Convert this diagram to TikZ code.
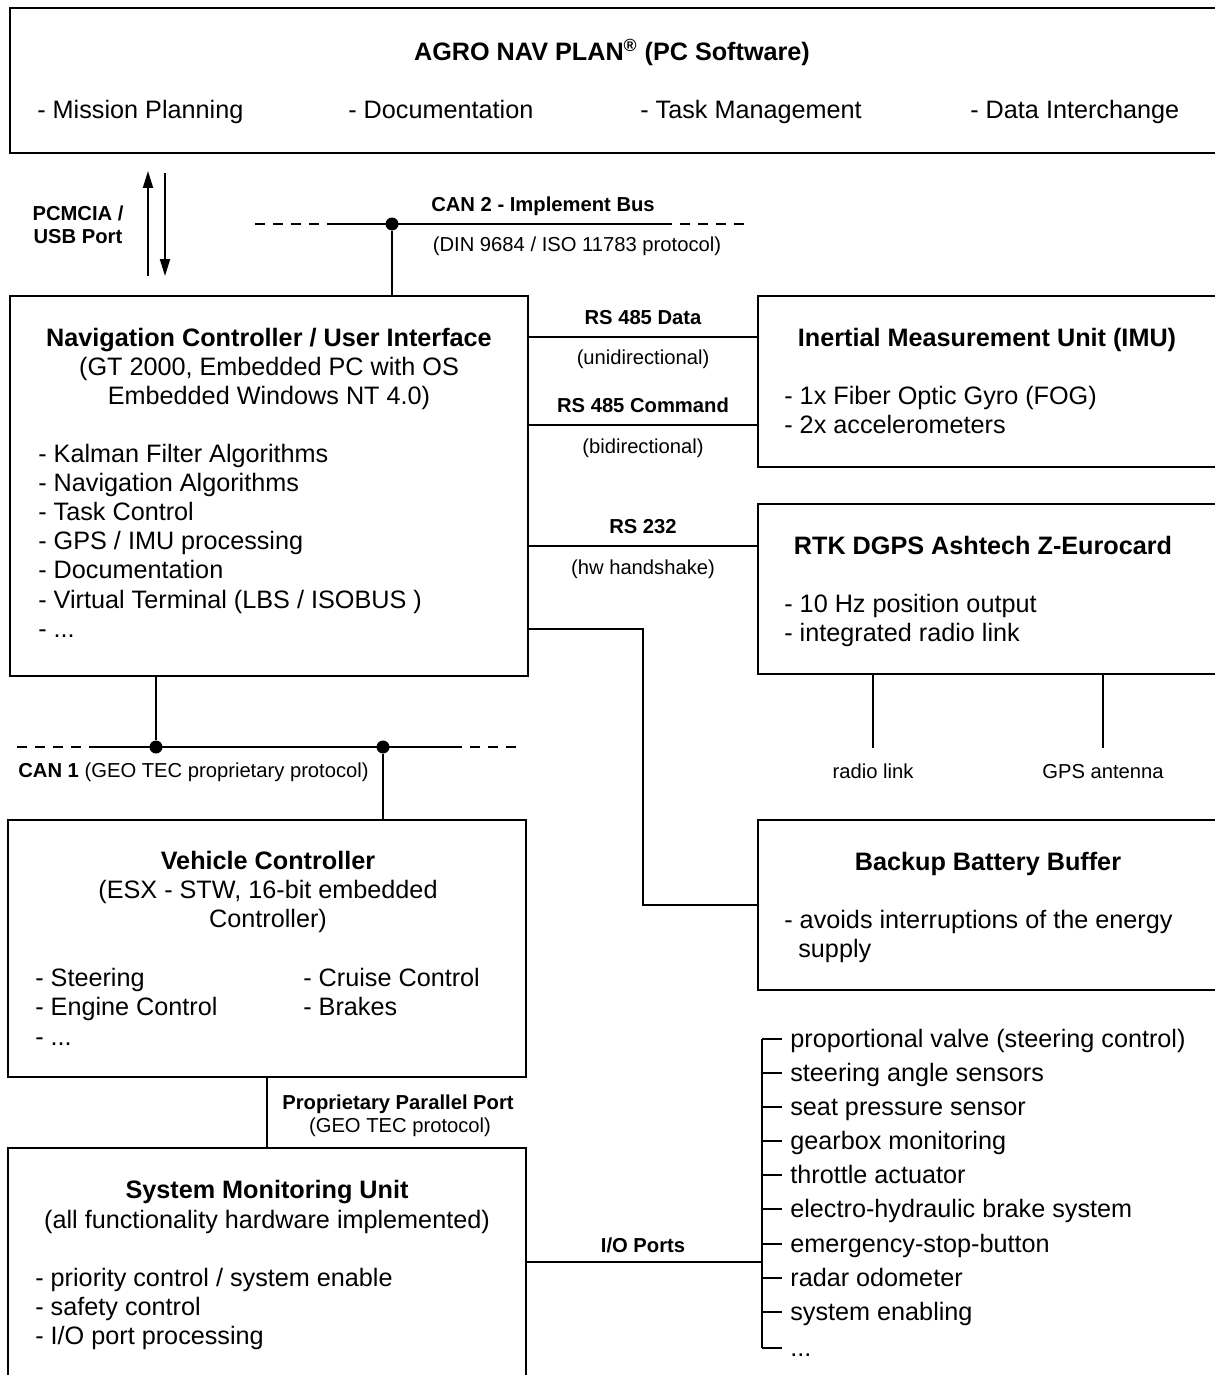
\documentclass[tikz,border=0pt]{standalone}
\usepackage{fontspec}
\setmainfont{Liberation Sans}
\usetikzlibrary{arrows.meta,fit}

\tikzset{
  box/.style={draw, line width=1.1pt, inner sep=0pt},
  wire/.style={line width=1.1pt},
  bus/.style={line width=1.1pt, dash pattern=on 0.2cm off 0.16cm},
  pfeil/.style={line width=1.1pt, -{Triangle[length=0.34cm, width=0.2cm]}},
  dot/.style={fill, circle, inner sep=0pt, minimum size=0.26cm},
  txt/.style={inner sep=0pt, font=\fontsize{14.35}{17}\selectfont},
  txtb/.style={inner sep=0pt, font=\fontsize{14.35}{17}\selectfont\bfseries},
  lbl/.style={inner sep=0pt, font=\fontsize{11.5}{14}\selectfont},
  lblb/.style={inner sep=0pt, font=\fontsize{11.5}{14}\selectfont\bfseries}
}

\begin{document}
\begin{tikzpicture}[x=0.02cm, y=-0.02cm]
	\useasboundingbox (0,0) rectangle (1214,1375);

	% Bloecke
	\node[box, fit={(10,8) (1222,153)}] (agro) {};
	\node[box, fit={(10,296) (528,676)}] (nav) {};
	\node[box, fit={(758,296) (1222,467)}] (imu) {};
	\node[box, fit={(758,504) (1222,674)}] (rtk) {};
	\node[box, fit={(758,820) (1222,990)}] (bat) {};
	\node[box, fit={(8,820) (526,1077)}] (veh) {};
	\node[box, fit={(8,1148) (526,1390)}] (smu) {};

	% PC Software
	\node[txtb, anchor=base] (agrot) at (612,61) {AGRO NAV PLAN\textsuperscript{®} (PC Software)};
	\foreach \x/\t [count=\i] in {37/Mission Planning, 348/Documentation, 640/Task Management, 970/Data Interchange} {
	     \node[txt, anchor=base west] (agro\i) at (\x,119) {- \t};
	}

	% Navigation Controller
	\node[txtb, anchor=base] (navt1) at (269,346) {Navigation Controller / User Interface};
	\node[txt, anchor=base] (navt2) at (269,375) {(GT 2000, Embedded PC with OS};
	\node[txt, anchor=base] (navt3) at (269,404) {Embedded Windows NT 4.0)};
	\foreach \t [count=\i] in {Kalman Filter Algorithms, Navigation Algorithms, Task Control, GPS / IMU processing, Documentation, Virtual Terminal (LBS / ISOBUS )} {
	     \node[txt, anchor=base west] (navi\i) at (38,{462+29.2*(\i-1)}) {- \t};
	}
	\node[txt, anchor=base west] (navi7) at (38,637) {- ...};

	% IMU
	\node[txtb, anchor=base] (imut) at (987,346) {Inertial Measurement Unit (IMU)};
	\node[txt, anchor=base west] (imu1) at (784,404) {- 1x Fiber Optic Gyro (FOG)};
	\node[txt, anchor=base west] (imu2) at (784,433) {- 2x accelerometers};

	% RTK DGPS
	\node[txtb, anchor=base] (rtkt) at (983,554) {RTK DGPS Ashtech Z-Eurocard};
	\node[txt, anchor=base west] (rtk1) at (784,612) {- 10 Hz position output};
	\node[txt, anchor=base west] (rtk2) at (784,641) {- integrated radio link};
	\coordinate (radio) at (873,748);
	\coordinate (antenna) at (1103,748);
	\node[lbl, anchor=base] (radiol) at (873,778) {radio link};
	\node[lbl, anchor=base] (antennal) at (1103,778) {GPS antenna};

	% Batterie
	\node[txtb, anchor=base] (batt) at (988,870) {Backup Battery Buffer};
	\node[txt, anchor=base west] (bat1) at (784,928) {- avoids interruptions of the energy};
	\node[txt, anchor=base west] (bat2) at (798,957) {supply};

	% Vehicle Controller
	\node[txtb, anchor=base] (veht1) at (268,869) {Vehicle Controller};
	\node[txt, anchor=base] (veht2) at (268,898) {(ESX - STW, 16-bit embedded};
	\node[txt, anchor=base] (veht3) at (268,927) {Controller)};
	\node[txt, anchor=base west] (vehi1) at (35,986) {- Steering};
	\node[txt, anchor=base west] (vehi2) at (35,1015) {- Engine Control};
	\node[txt, anchor=base west] (vehi3) at (35,1045) {- ...};
	\node[txt, anchor=base west] (vehi4) at (303,986) {- Cruise Control};
	\node[txt, anchor=base west] (vehi5) at (303,1015) {- Brakes};

	% System Monitoring Unit
	\node[txtb, anchor=base] (smut1) at (267,1198) {System Monitoring Unit};
	\node[txt, anchor=base] (smut2) at (267,1228) {(all functionality hardware implemented)};
	\foreach \t [count=\i] in {priority control / system enable, safety control, I/O port processing} {
	     \node[txt, anchor=base west] (smui\i) at (35,{1286+29.2*(\i-1)}) {- \t};
	}

	% PCMCIA
	\node[lblb, anchor=base] (pcm1) at (78,220) {PCMCIA /};
	\node[lblb, anchor=base] (pcm2) at (78,243) {USB Port};
	\draw[pfeil, shorten <=0.38cm, shorten >=0.34cm] (nav.north -| 148,0) -- (agro.south -| 148,0);
	\draw[pfeil, shorten <=0.38cm, shorten >=0.38cm] (agro.south -| 165,0) -- (nav.north -| 165,0);

	% CAN 2
	\draw[bus] (255,224) -- (319,224);
	\draw[wire] (327,224) -- (672,224);
	\draw[bus] (680,224) -- (750,224);
	\node[dot] (can2) at (392,224) {};
	\draw[wire] (can2) -- (nav.north -| can2);
	\node[lblb, anchor=base] (can2l) at (543,212) {CAN 2 - Implement Bus};
	\node[lbl, anchor=base] (can2p) at (577,252) {(DIN 9684 / ISO 11783 protocol)};

	% serielle Leitungen
	\draw[wire] (nav.east |- 0,337) -- (imu.west |- 0,337);
	\node[lblb, anchor=base] (rs1) at (643,324) {RS 485 Data};
	\node[lbl, anchor=base] (rs1p) at (643,364) {(unidirectional)};
	\draw[wire] (nav.east |- 0,425) -- (imu.west |- 0,425);
	\node[lblb, anchor=base] (rs2) at (643,412) {RS 485 Command};
	\node[lbl, anchor=base] (rs2p) at (643,453) {(bidirectional)};
	\draw[wire] (nav.east |- 0,546) -- (rtk.west |- 0,546);
	\node[lblb, anchor=base] (rs3) at (643,533) {RS 232};
	\node[lbl, anchor=base] (rs3p) at (643,574) {(hw handshake)};
	\draw[wire] (rtk.south -| radio) -- (radio);
	\draw[wire] (rtk.south -| antenna) -- (antenna);
	\draw[wire] (nav.east |- 0,629) -| (643,905) -- (bat.west |- 0,905);

	% CAN 1
	\draw[bus] (17,747) -- (81,747);
	\draw[wire] (89,747) -- (462,747);
	\draw[bus] (470,747) -- (518,747);
	\node[dot] (can1a) at (156,747) {};
	\node[dot] (can1b) at (383,747) {};
	\draw[wire] (nav.south -| can1a) -- (can1a);
	\draw[wire] (can1b) -- (veh.north -| can1b);
	\node[lbl, anchor=base west] (can1l) at (18,777) {\textbf{CAN 1} (GEO TEC proprietary protocol)};

	% Parallel Port
	\draw[wire] (veh.south) -- (smu.north);
	\node[lblb, anchor=base] (ppl) at (398,1109) {Proprietary Parallel Port};
	\node[lbl, anchor=base] (ppp) at (400,1132) {(GEO TEC protocol)};

	% I/O Ports
	\coordinate (iobr) at (762,1262);
	\draw[wire] (smu.east |- iobr) -- (iobr);
	\node[lblb, anchor=base] (iol) at (643,1252) {I/O Ports};
	\draw[wire] (762,1039) -- (762,1348);
	\foreach \y/\t [count=\i] in {1039/proportional valve (steering control), 1073/steering angle sensors, 1107/seat pressure sensor, 1141/gearbox monitoring, 1175/throttle actuator, 1209/electro-hydraulic brake system, 1244/emergency-stop-button, 1278/radar odometer, 1312/system enabling} {
	     \draw[wire] (762,\y) -- (782,\y);
	     \node[txt, anchor=base west] (io\i) at (790,\y+8) {\t};
	}
	\draw[wire] (762,1348) -- (782,1348);
	\node[txt, anchor=base west] (io10) at (790,1356) {...};
\end{tikzpicture}
\end{document}
